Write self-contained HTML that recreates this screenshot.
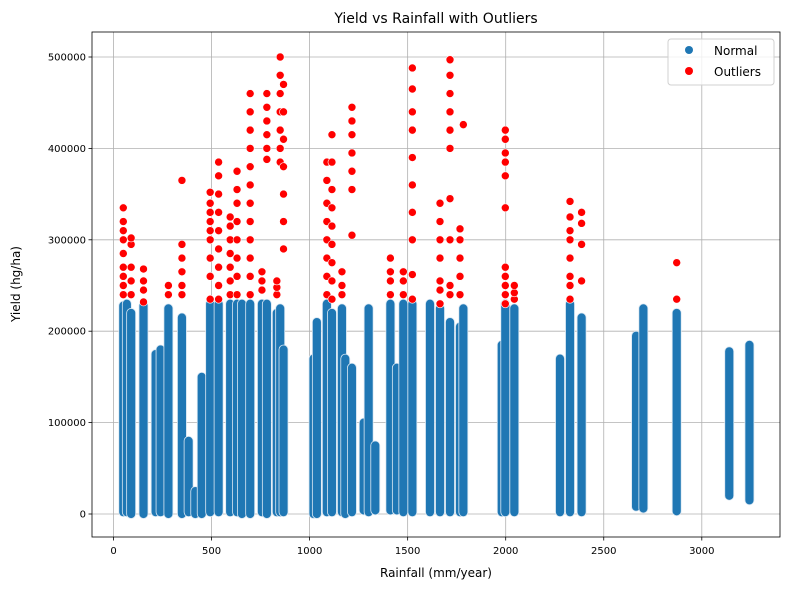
<!DOCTYPE html>
<html><head><meta charset="utf-8"><style>
body{margin:0;background:#fff;}
svg{display:block;font-family:"DejaVu Sans","Liberation Sans",sans-serif;}
</style></head><body>
<svg id="chart" width="790" height="590">
<rect width="790" height="590" fill="#fff"/>
<text x="436" y="23" font-size="14" text-anchor="middle" fill="#000">Yield vs Rainfall with Outliers</text>
<g id="grid"></g><g id="marks"></g><g id="axes"></g>
<text x="436" y="577" font-size="12" text-anchor="middle">Rainfall (mm/year)</text>
<text x="0" y="0" font-size="12" text-anchor="middle" transform="translate(20,284) rotate(-90)">Yield (hg/ha)</text>
<g>
<rect x="668" y="39" width="106" height="46" rx="3" fill="#fff" fill-opacity="0.8" stroke="#d0d0d0"/>
<g><circle cx="689" cy="50" r="4" fill="#1f77b4"/><text x="714" y="55" font-size="12">Normal</text></g>
<g><circle cx="689" cy="71" r="4" fill="#ff0000"/><text x="714" y="76" font-size="12">Outliers</text></g>
</g>
</svg>
<script>
const normRain=[50,68,90,153,215,240,280,349,383,417,450,493,536,595,630,655,697,757,782,833,850,867,1020,1037,1088,1114,1165,1182,1216,1276,1301,1335,1412,1445,1478,1524,1614,1665,1716,1767,1784,1980,1998,2044,2277,2328,2387,2665,2702,2872,3140,3243];
const normLow=[2,2,0,0,2,2,0,0,2,0,0,2,2,2,2,0,0,2,0,2,2,2,0,0,2,2,2,0,2,4,2,4,4,4,2,2,2,2,2,2,2,2,2,2,2,2,2,8,6,3,20,15];
const normHigh=[228,230,220,228,175,180,225,215,80,25,150,230,230,230,230,230,230,230,230,220,225,180,170,210,230,220,225,170,160,100,225,75,230,160,230,230,230,225,210,205,225,185,230,225,170,230,215,195,225,220,178,185];
const outRain=[50,90,153,280,349,493,536,595,630,697,757,782,833,850,867,1088,1114,1165,1216,1412,1478,1524,1665,1716,1767,1784,1998,2044,2328,2387,2872];
const outVals=[[240,250,260,270,285,300,310,320,335],[240,255,270,295,302],[232,245,255,268],[240,250],[240,250,265,280,295,365],[235,260,280,300,310,320,330,340,352],[235,250,270,290,310,330,350,370,385],[240,255,270,285,300,315,325],[240,260,280,300,320,340,355,375],[240,260,280,300,320,340,360,380,400,420,440,460],[245,255,265],[388,400,415,430,445,460],[240,248,255],[385,400,420,440,460,480,500],[290,320,350,380,410,440,470],[240,260,280,300,320,340,365,385],[235,255,275,295,315,335,355,385,415],[240,250,265],[305,355,375,395,415,430,445],[240,255,265,280],[240,255,265],[235,262,300,330,360,390,420,440,465,488],[230,245,255,280,300,320,340],[240,250,300,345,400,420,440,460,480,497],[240,260,280,300,312],[426],[230,240,250,260,270,335,370,385,395,410,420],[235,242,250],[235,250,260,280,300,310,325,342],[255,295,318,330],[235,275]];
const xTicks=[0,500,1000,1500,2000,2500,3000];
const yTicks=[0,100000,200000,300000,400000,500000];
const L=92,R=780,T=32,B=537;
const X=v=>113.5+v*0.1961;
const Y=v=>514-v*457/500000;
const NS="http://www.w3.org/2000/svg";
function mk(tag,attrs,parent){const e=document.createElementNS(NS,tag);for(const k in attrs)e.setAttribute(k,attrs[k]);parent.appendChild(e);return e;}
const grid=document.getElementById('grid'),marks=document.getElementById('marks'),axes=document.getElementById('axes');
xTicks.forEach(t=>{
 const g=mk('line',{x1:X(t),x2:X(t),y1:T,y2:B,stroke:'#b0b0b0','stroke-width':0.8},grid);
 
 
 mk('line',{x1:X(t),x2:X(t),y1:B,y2:B+3.5,stroke:'#000','stroke-width':0.8},axes);
 const tx=mk('text',{x:X(t),y:B+17,'font-size':10,'text-anchor':'middle'},axes);tx.textContent=t;
 
 
});
yTicks.forEach(t=>{
 const g=mk('line',{x1:L,x2:R,y1:Y(t),y2:Y(t),stroke:'#b0b0b0','stroke-width':0.8},grid);
 
 
 mk('line',{x1:L-3.5,x2:L,y1:Y(t),y2:Y(t),stroke:'#000','stroke-width':0.8},axes);
 const tx=mk('text',{x:L-6,y:Y(t)+3.5,'font-size':10,'text-anchor':'end'},axes);tx.textContent=t;
 
 
});
const frame=mk('rect',{x:L,y:T,width:R-L,height:B-T,fill:'none',stroke:'#000','stroke-width':0.8},axes);


normRain.forEach((r,i)=>{
 const y1=Y(normHigh[i]*1000),y2=Y(normLow[i]*1000);
 const c=mk('rect',{x:X(r)-4.5,y:y1-4.5,width:9,height:(y2-y1)+9,rx:4.5,fill:'#1f77b4',stroke:'#dbe8f3','stroke-width':0.8},marks);
 
 
});
outRain.forEach((r,i)=>{
 outVals[i].forEach(v=>{
  const c=mk('circle',{cx:X(r),cy:Y(v*1000),r:4,fill:'#ff0000',stroke:'#fff','stroke-width':0.6},marks);
  
  
 });
});
</script>
</body></html>
